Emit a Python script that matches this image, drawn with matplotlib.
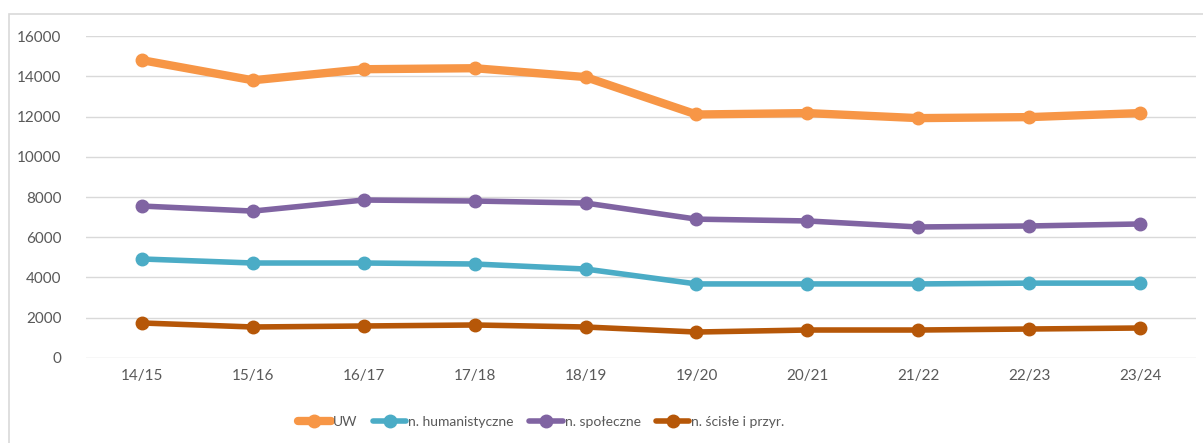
import matplotlib.pyplot as plt
from matplotlib.patches import Rectangle

# DATA
years = ['14/15', '15/16', '16/17', '17/18', '18/19', '19/20', '20/21', '21/22', '22/23', '23/24']
uw = [14800, 13800, 14350, 14400, 13960, 12100, 12170, 11920, 11970, 12170]
humanistyczne = [4920, 4720, 4720, 4670, 4420, 3680, 3680, 3680, 3720, 3720]
spoleczne = [7550, 7300, 7850, 7800, 7700, 6900, 6810, 6510, 6560, 6660]
scisle = [1740, 1540, 1590, 1640, 1540, 1290, 1390, 1390, 1440, 1490]

series = [
    ('UW', uw, '#F79646', 6),
    ('n. humanistyczne', humanistyczne, '#4BACC6', 4),
    ('n. społeczne', spoleczne, '#8064A2', 4),
    ('n. ścisłe i przyr.', scisle, '#B65708', 4),
]

plt.rcParams['font.family'] = ['Lato', 'DejaVu Sans']

fig = plt.figure(figsize=(12.03, 4.43), dpi=100)
ax = fig.add_axes([0.0719, 0.1919, 0.9219, 0.7268])

# light outer frame like the spreadsheet chart area
fig.patches.append(Rectangle((9 / 1203, -0.1), 1.2, 1 - 14 / 443 + 0.1,
                             transform=fig.transFigure, fill=False,
                             edgecolor='#D9D9D9', linewidth=1.2))

x = range(len(years))
for name, vals, color, lw in series:
    ax.plot(x, vals, color=color, linewidth=lw, marker='o', markersize=9,
            label=name, solid_capstyle='round')

ax.set_xlim(-0.5, len(years) - 0.5)
ax.set_ylim(0, 16000)
ax.set_yticks(range(0, 16001, 2000))
ax.set_xticks(list(x))
ax.set_xticklabels(years)
ax.grid(axis='y', color='#D9D9D9', linewidth=1)
ax.set_axisbelow(True)
for s in ax.spines.values():
    s.set_visible(False)
ax.tick_params(length=0, labelsize=11, labelcolor='#595959', pad=8)
ax.tick_params(axis='y', pad=18)

ax.legend(loc='upper center', bbox_to_anchor=(0.41, -0.14), ncol=4, frameon=False,
          fontsize=10, labelcolor='#595959', handlelength=2.4, handletextpad=0.15,
          columnspacing=1.1)

fig.savefig('out.png', dpi=100)
